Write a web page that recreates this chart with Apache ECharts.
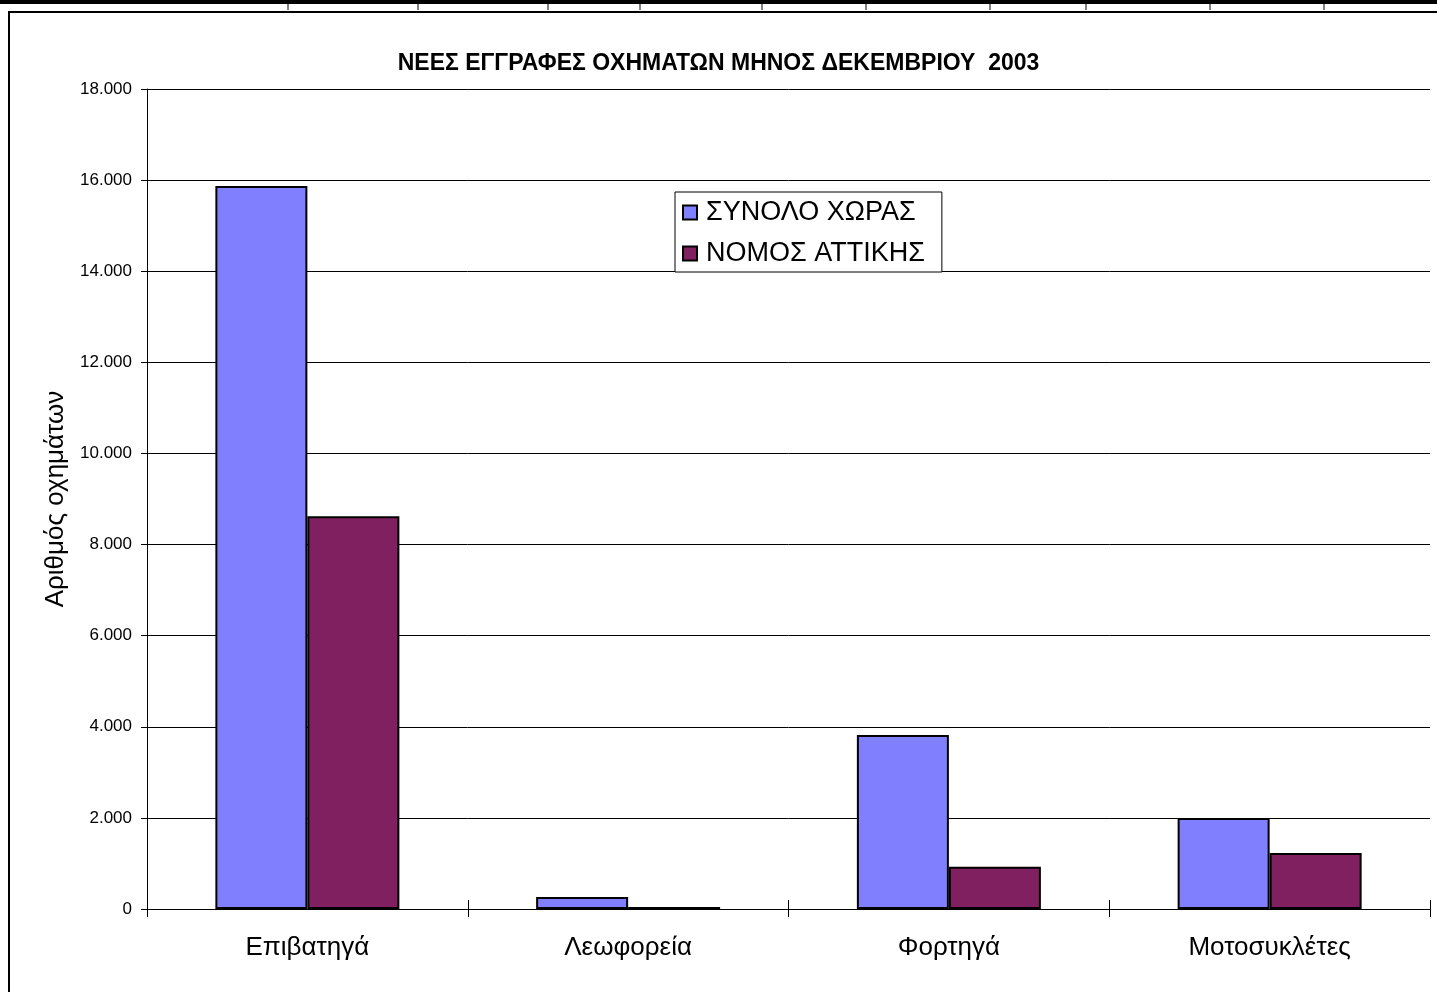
<!DOCTYPE html>
<html><head><meta charset="utf-8">
<script src="https://cdn.jsdelivr.net/npm/echarts@6/dist/echarts.min.js"></script>
<style>html,body{margin:0;padding:0;background:#fff}#c{width:1437px;height:992px}</style>
</head><body><div id="c"></div>
<script>
const categories = ['Επιβατηγά', 'Λεωφορεία', 'Φορτηγά', 'Μοτοσυκλέτες'];
const seriesNames = ['ΣΥΝΟΛΟ ΧΩΡΑΣ', 'ΝΟΜΟΣ ΑΤΤΙΚΗΣ'];
const totalCountry = [15870, 265, 3820, 2000];
const atticaPrefecture = [8620, 45, 925, 1230];
const titleText = 'ΝΕΕΣ ΕΓΓΡΑΦΕΣ ΟΧΗΜΑΤΩΝ ΜΗΝΟΣ ΔΕΚΕΜΒΡΙΟΥ  2003';
const yAxisName = 'Αριθμός οχημάτων';

const chart = echarts.init(document.getElementById('c'), null, {renderer: 'canvas'});
const FONT = 'Liberation Sans, Arial, sans-serif';
const fmt = v => String(v).replace(/\B(?=(\d{3})+(?!\d))/g, '.');
const topTicks = [288, 418, 548, 640, 762, 866, 990, 1086, 1210, 1324];
const graphics = [
  {type: 'rect', shape: {x: 0, y: 0, width: 1437, height: 4}, style: {fill: '#000'}, silent: true},
  {type: 'rect', shape: {x: 9, y: 12, width: 1440, height: 990}, style: {fill: 'none', stroke: '#000', lineWidth: 2}, silent: true}
];
topTicks.forEach(x => graphics.push({type: 'line', shape: {x1: x, y1: 4, x2: x, y2: 10}, style: {stroke: '#000', lineWidth: 1}, silent: true}));

chart.setOption({
  animation: false,
  backgroundColor: '#fff',
  textStyle: {fontFamily: FONT},
  graphic: graphics,
  title: {
    text: titleText, left: 'center', top: 47,
    textStyle: {fontFamily: FONT, fontSize: 23, fontWeight: 'bold', color: '#000'}
  },
  legend: {
    orient: 'vertical', left: 675, top: 192,
    itemWidth: 14, itemHeight: 14, itemGap: 14,
    padding: [7, 17, 5, 7],
    borderColor: '#000', borderWidth: 1, backgroundColor: '#fff',
    icon: 'rect',
    textStyle: {fontFamily: FONT, fontSize: 27, color: '#000', padding: [0, 0, 0, 4]},
    data: seriesNames
  },
  grid: {left: 147, right: 7, top: 89, bottom: 83, containLabel: false},
  xAxis: [{
    type: 'category', data: categories,
    axisLine: {lineStyle: {color: '#000', width: 1}},
    axisTick: {show: true, length: 8, lineStyle: {color: '#000'}},
    axisLabel: {fontFamily: FONT, fontSize: 26, color: '#000', margin: 26},
    splitLine: {show: false}
  }, {
    type: 'category', data: categories, position: 'bottom',
    axisLine: {show: false},
    axisTick: {show: true, inside: true, length: 9, lineStyle: {color: '#000'}},
    axisLabel: {show: false},
    splitLine: {show: false}
  }],
  yAxis: {
    type: 'value', min: 0, max: 18000, interval: 2000,
    name: yAxisName, nameLocation: 'middle', nameGap: 77, nameRotate: 90,
    nameTextStyle: {fontFamily: FONT, fontSize: 26, color: '#000'},
    axisLine: {show: true, lineStyle: {color: '#000', width: 1}},
    axisTick: {show: true, length: 6, lineStyle: {color: '#000'}},
    axisLabel: {fontFamily: FONT, fontSize: 17, color: '#000', margin: 15, formatter: fmt},
    splitLine: {show: true, lineStyle: {color: '#000', width: 1}}
  },
  series: [{
    name: seriesNames[0], type: 'bar', data: totalCountry, xAxisIndex: 0,
    barWidth: 92, barGap: '0%',
    itemStyle: {color: '#8080FF', borderColor: '#000', borderWidth: 2}
  }, {
    name: seriesNames[1], type: 'bar', data: atticaPrefecture, xAxisIndex: 0,
    barWidth: 92, barGap: '0%',
    itemStyle: {color: '#802060', borderColor: '#000', borderWidth: 2}
  }]
});
</script></body></html>
